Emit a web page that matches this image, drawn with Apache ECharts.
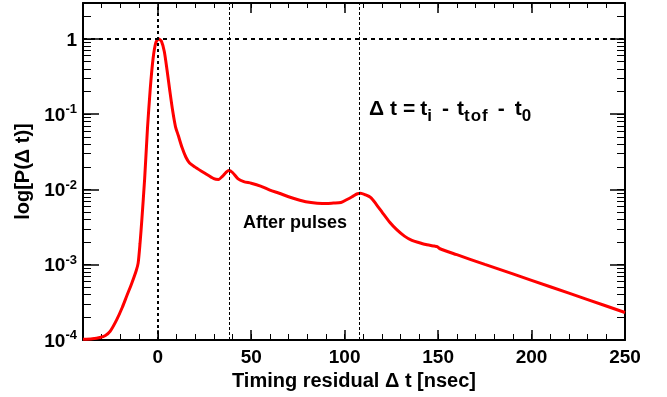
<!DOCTYPE html>
<html><head><meta charset="utf-8">
<script src="https://cdn.jsdelivr.net/npm/echarts@6/dist/echarts.min.js"></script>
<style>html,body{margin:0;padding:0;background:#fff}#c{width:667px;height:397px}</style>
</head><body><div id="c"></div>
<script>
// Timing residual (ns) and probability values
const timeNs = [-40, -35, -31, -28, -25.5, -22, -19, -16.5, -14, -11.5, -10.5, -9.5, -8.5, -7, -5.5, -4, -2.5, -1, 0.5, 2, 3.5, 5, 6.5, 8, 9.5, 11, 13, 15, 17, 20, 25, 30, 32.5, 35, 38, 40, 43, 46, 50, 55, 60, 65, 70, 76, 82, 88, 94, 98, 101, 104, 106.5, 108.5, 111, 114, 117, 120, 124, 128, 132, 136, 140, 144, 148, 149.5, 151, 160, 175, 190, 210, 230, 250];
const prob = [1.02e-4, 1.04e-4, 1.08e-4, 1.15e-4, 1.3e-4, 1.85e-4, 2.7e-4, 3.9e-4, 5.6e-4, 8.4e-4, 1.05e-3, 1.9e-3, 4.0e-3, 1.4e-2, 6.5e-2, 0.22, 0.55, 0.9, 1.0, 0.93, 0.68, 0.38, 0.2, 0.11, 0.068, 0.052, 0.036, 0.027, 0.0225, 0.0198, 0.0165, 0.0139, 0.0136, 0.0153, 0.0178, 0.0168, 0.0138, 0.0127, 0.0121, 0.0111, 0.0098, 0.0089, 0.0080, 0.0072, 0.0067, 0.0065, 0.0066, 0.0067, 0.0073, 0.0080, 0.0087, 0.0089, 0.0085, 0.0078, 0.0063, 0.0050, 0.0037, 0.0029, 0.0024, 0.0021, 0.00196, 0.00184, 0.00177, 0.00174, 0.00163, 1.36e-3, 1.01e-3, 7.55e-4, 5.1e-4, 3.44e-4, 2.32e-4];

// Axis ticks / labels
const xMajorTicks = [0, 50, 100, 150, 200, 250];
const xMinorTicks = [-40, -30, -20, -10, 0, 10, 20, 30, 40, 50, 60, 70, 80, 90, 100, 110, 120, 130, 140, 150, 160, 170, 180, 190, 200, 210, 220, 230, 240, 250];
const yDecades = [1e-4, 1e-3, 1e-2, 1e-1, 1];
const yMinorMult = [1, 2, 3, 4, 5, 6, 7, 8, 9];
const xRange = [-40, 250];
const yRange = [1e-4, 3];

// Reference lines
const promptTime = 0;
const afterPulseTimes = [38.5, 108];
const unitLevel = 1;

const yMinorTicks = [];
yDecades.forEach(d => yMinorMult.forEach(m => { const v = d * m; if (v <= yRange[1]) yMinorTicks.push(v); }));

const FONT = '"Liberation Sans", Arial, Helvetica, sans-serif';
const seriesData = timeNs.map((t, i) => [t, prob[i]]);

function logLabel(v) {
  const e = Math.round(Math.log10(v));
  if (e === 0) return '{b|1}';
  return '{b|10}{s|' + e + '}';
}

// formula text pieces: Δ t = t_i - t_tof - t_0
const mainStyle = { fontSize: 21, fontWeight: 'bold', fontFamily: FONT, color: '#000', verticalAlign: 'top', lineHeight: 22 };
const subStyle = { fontSize: 17, fontWeight: 'bold', fontFamily: FONT, color: '#000', verticalAlign: 'top', lineHeight: 17, padding: [9, 0, 0, 0] };
const gap = n => ({ width: n, fontSize: 21, lineHeight: 22, verticalAlign: 'top' });
const formulaRich = { m: mainStyle, s: subStyle, g1: gap(1), g5: gap(5), g6: gap(6), g8: gap(8), g10: gap(10) };
const formulaText = '{m|\u0394}{g6| }{m|t}{g6| }{m|=}{g5| }{m|t}{s|i}{g10| }{m|-}{g8| }{m|t}{s|t}{g1| }{s|o}{g1| }{s|f}{g10| }{m|-}{g10| }{m|t}{s|0}';

const chart = echarts.init(document.getElementById('c'), null, { renderer: 'canvas' });
chart.setOption({
  animation: false,
  backgroundColor: '#fff',
  grid: { left: 83, right: 42, top: 3, bottom: 57, containLabel: false, outerBoundsMode: 'none' },
  xAxis: [
    { type: 'value', position: 'bottom', min: xRange[0], max: xRange[1],
      axisLine: { show: true, onZero: false, lineStyle: { color: '#000', width: 2 } },
      axisTick: { show: true, inside: true, length: 10, customValues: xMajorTicks, lineStyle: { color: '#000', width: 1.5 } },
      axisLabel: { customValues: xMajorTicks, margin: 8, color: '#000', fontSize: 19, fontWeight: 'bold', fontFamily: FONT },
      splitLine: { show: false },
      name: 'Timing residual \u0394 t [nsec]', nameLocation: 'middle', nameGap: 26,
      nameTextStyle: { color: '#000', fontSize: 20, fontWeight: 'bold', fontFamily: FONT } },
    { type: 'value', position: 'bottom', min: xRange[0], max: xRange[1],
      axisLine: { show: false, onZero: false },
      axisTick: { show: true, inside: true, length: 6, customValues: xMinorTicks, lineStyle: { color: '#000', width: 1 } },
      axisLabel: { show: false }, splitLine: { show: false } },
    { type: 'value', position: 'top', min: xRange[0], max: xRange[1],
      axisLine: { show: true, onZero: false, lineStyle: { color: '#000', width: 2 } },
      axisTick: { show: true, inside: true, length: 10, customValues: xMajorTicks, lineStyle: { color: '#000', width: 1.5 } },
      axisLabel: { show: false }, splitLine: { show: false } },
    { type: 'value', position: 'top', min: xRange[0], max: xRange[1],
      axisLine: { show: false, onZero: false },
      axisTick: { show: true, inside: true, length: 5, customValues: xMinorTicks, lineStyle: { color: '#000', width: 1 } },
      axisLabel: { show: false }, splitLine: { show: false } }
  ],
  yAxis: [
    { type: 'log', logBase: 10, position: 'left', min: yRange[0], max: yRange[1],
      axisLine: { show: true, onZero: false, lineStyle: { color: '#000', width: 2 } },
      axisTick: { show: true, inside: true, length: 16, customValues: yDecades, lineStyle: { color: '#000', width: 1.5 } },
      axisLabel: { customValues: yDecades, margin: 6, formatter: logLabel, color: '#000',
        rich: {
          b: { fontSize: 19, fontWeight: 'bold', fontFamily: FONT, color: '#000', verticalAlign: 'bottom', lineHeight: 22 },
          s: { fontSize: 13, fontWeight: 'bold', fontFamily: FONT, color: '#000', verticalAlign: 'top', lineHeight: 14 }
        } },
      splitLine: { show: false },
      name: 'log[P(\u0394 t)]', nameLocation: 'middle', nameGap: 50,
      nameTextStyle: { color: '#000', fontSize: 20, fontWeight: 'bold', fontFamily: FONT } },
    { type: 'log', logBase: 10, position: 'left', min: yRange[0], max: yRange[1],
      axisLine: { show: false, onZero: false },
      axisTick: { show: true, inside: true, length: 8, customValues: yMinorTicks, lineStyle: { color: '#000', width: 1 } },
      axisLabel: { show: false }, splitLine: { show: false } },
    { type: 'log', logBase: 10, position: 'right', min: yRange[0], max: yRange[1],
      axisLine: { show: true, onZero: false, lineStyle: { color: '#000', width: 2 } },
      axisTick: { show: true, inside: true, length: 15, customValues: yDecades, lineStyle: { color: '#000', width: 1.5 } },
      axisLabel: { show: false }, splitLine: { show: false } },
    { type: 'log', logBase: 10, position: 'right', min: yRange[0], max: yRange[1],
      axisLine: { show: false, onZero: false },
      axisTick: { show: true, inside: true, length: 8, customValues: yMinorTicks, lineStyle: { color: '#000', width: 1 } },
      axisLabel: { show: false }, splitLine: { show: false } }
  ],
  series: [{
    type: 'line', xAxisIndex: 0, yAxisIndex: 0, data: seriesData,
    showSymbol: false, smooth: 0.25,
    lineStyle: { color: '#ff0000', width: 3 },
    markLine: {
      silent: true, symbol: ['none', 'none'], label: { show: false }, animation: false,
      data: [
        { xAxis: promptTime, lineStyle: { color: '#000', width: 2, type: [3, 3] } },
        { yAxis: unitLevel, lineStyle: { color: '#000', width: 2, type: [4, 4] } }
      ].concat(afterPulseTimes.map(t => ({ xAxis: t, lineStyle: { color: '#000', width: 1, type: [3, 2] } })))
    },
    z: 3
  }],
  graphic: [
    { type: 'text', left: 369, top: 99, z: 10,
      style: { text: formulaText, fill: '#000', rich: formulaRich } },
    { type: 'text', left: 243, top: 214, z: 10,
      style: { text: 'After pulses', fill: '#000', font: 'bold 18px ' + FONT } }
  ]
});
</script></body></html>
